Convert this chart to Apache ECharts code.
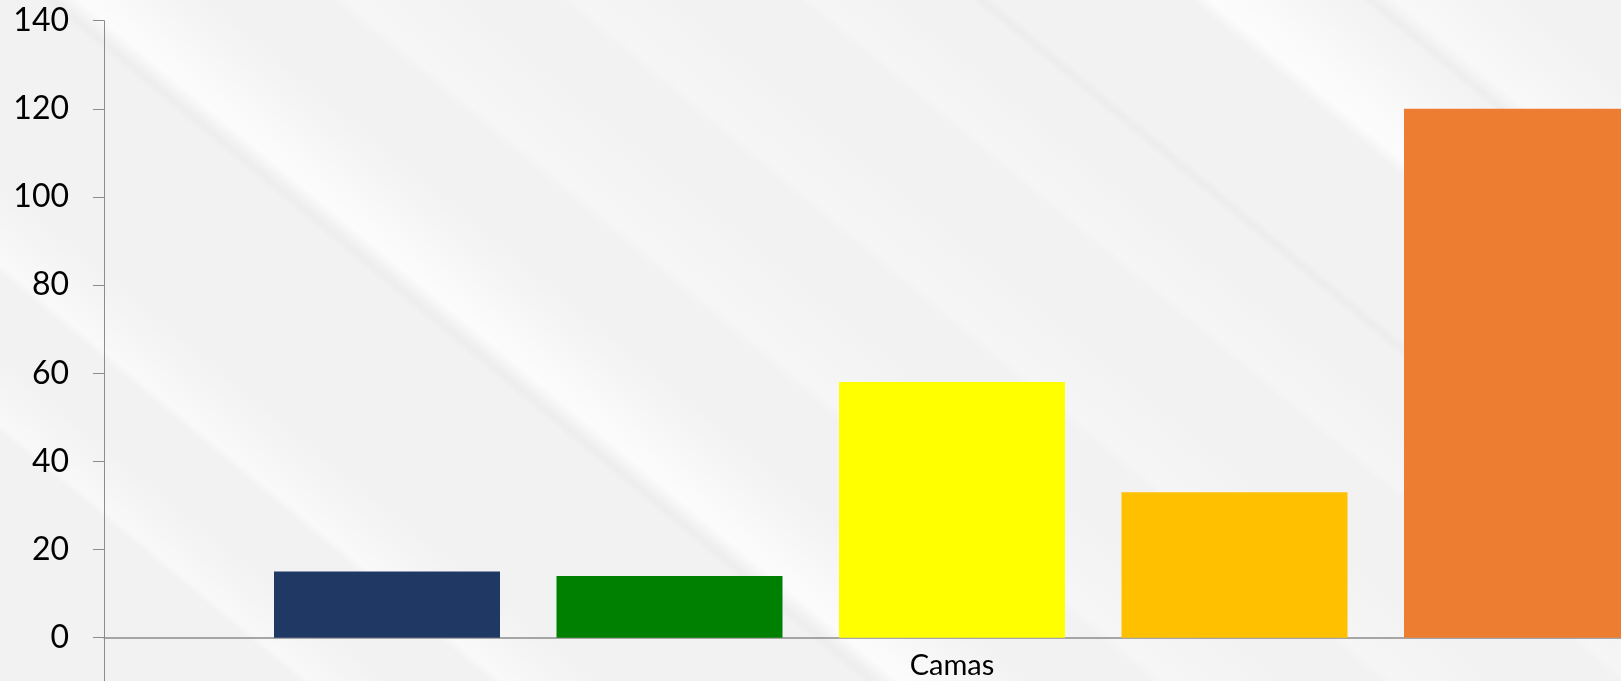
<!DOCTYPE html>
<html>
<head>
<meta charset="utf-8">
<style>
  html, body { margin: 0; padding: 0; background: #f2f2f2; }
  #chart { width: 1621px; height: 681px; }
</style>
<script src="https://cdn.jsdelivr.net/npm/echarts@6/dist/echarts.min.js"></script>
</head>
<body>
<div id="chart"></div>
<script>
// Category and values
const categories = ['Camas'];
const barValues = [15, 14, 58, 33, 120];
const barColors = ['#203864', '#008000', '#ffff00', '#ffc000', '#ed7d31'];
const yTicks = { min: -20, max: 140, step: 20 };

// Plot box: the value axis runs past zero, down below the visible area
const GRID_TOP = 20.7;
const GRID_HEIGHT = 705.1;
const PX_PER_UNIT = GRID_HEIGHT / (yTicks.max - yTicks.min);

// Soft diagonal light streaks in the backdrop
const SLOPE = 0.83;
const SIN = 0.639, COS = 0.769;
function streak(x0, w, alpha, shade) {
  const top = -60, bot = 760;
  const xl = y => x0 + y / SLOPE;
  const gx = x0 + w * SIN * SIN, gy = -w * SIN * COS;
  const col = shade ? '0,0,0' : '255,255,255';
  return {
    type: 'polygon',
    silent: true,
    z: -10,
    shape: { points: [[xl(top), top], [xl(top) + w, top], [xl(bot) + w, bot], [xl(bot), bot]] },
    style: {
      fill: {
        type: 'linear', global: true,
        x: x0, y: 0, x2: gx, y2: gy,
        colorStops: shade
          ? [{ offset: 0, color: 'rgba(' + col + ',0)' }, { offset: 0.5, color: 'rgba(' + col + ',' + alpha + ')' }, { offset: 1, color: 'rgba(' + col + ',0)' }]
          : [{ offset: 0, color: 'rgba(' + col + ',0)' }, { offset: 0.12, color: 'rgba(' + col + ',' + alpha + ')' }, { offset: 1, color: 'rgba(' + col + ',0)' }]
      }
    }
  };
}
const streaks = [
  streak(40, 24, 0.02, true),
  streak(62, 150, 0.75),
  streak(-330, 110, 0.55),
  streak(-520, 90, 0.5),
  streak(330, 140, 0.35),
  streak(560, 120, 0.3),
  streak(970, 24, 0.025, true),
  streak(1190, 180, 0.8),
  streak(1362, 18, 0.02, true),
  streak(1380, 140, 0.5),
  streak(800, 100, 0.3)
];

const chart = echarts.init(document.getElementById('chart'), null, { renderer: 'canvas' });

const axisGray = '#8c8c8c';
const font = 'Lato, "Liberation Sans", sans-serif';

chart.setOption({
  backgroundColor: '#f2f2f2',
  animation: false,
  graphic: streaks,
  grid: {
    left: 104, top: GRID_TOP, width: 1696, height: GRID_HEIGHT,
    containLabel: false, outerBoundsMode: 'none'
  },
  xAxis: {
    type: 'category',
    data: categories,
    // lift the category axis (line and label) up to the zero level
    offset: -(0 - yTicks.min) * PX_PER_UNIT,
    axisLine: { show: true, onZero: false, lineStyle: { color: axisGray, width: 1.5 } },
    axisTick: { show: false },
    axisLabel: { color: '#000', fontSize: 29, fontFamily: font, margin: 13 },
    splitLine: { show: false }
  },
  yAxis: {
    type: 'value',
    min: yTicks.min,
    max: yTicks.max,
    interval: yTicks.step,
    axisLine: { show: true, lineStyle: { color: axisGray, width: 1 } },
    axisTick: { show: true, length: 11, lineStyle: { color: axisGray } },
    axisLabel: {
      color: '#000', fontSize: 32, fontFamily: font, margin: 35,
      formatter: v => (v < 0 ? '' : String(v))
    },
    splitLine: { show: false }
  },
  series: barValues.map((v, i) => ({
    type: 'bar',
    data: [v],
    barWidth: 226,
    barGap: '25%',
    itemStyle: { color: barColors[i] },
    z: 2
  }))
});
</script>
</body>
</html>
